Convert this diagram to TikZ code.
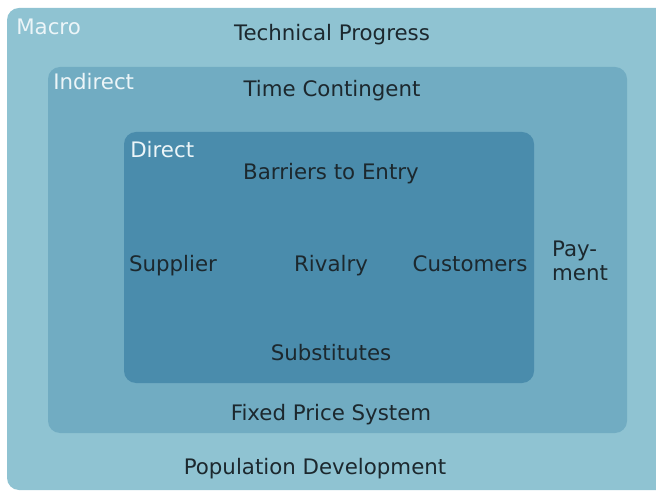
\documentclass[tikz,border=0pt]{standalone}
\usepackage{fontspec}
\setmainfont{DejaVu Sans}
\definecolor{macrocol}{RGB}{143,195,210}
\definecolor{indirectcol}{RGB}{113,172,194}
\definecolor{directcol}{RGB}{74,140,172}
\definecolor{txtcol}{RGB}{28,40,46}
\definecolor{labcol}{RGB}{236,245,248}

\begin{document}
\begin{tikzpicture}[
            x = .75pt, y = -.75pt,
            every node/.style={text depth=0pt, inner sep=0pt, font=\fontsize{16}{18}\selectfont, text=txtcol},
            layer/.style={rounded corners = 9pt},
            tag/.style={anchor=west, text=labcol},
            ]

        \useasboundingbox (0, 0) rectangle (656, 491);

        % the three nested areas
        \fill[layer, macrocol] (7, 8) rectangle (670, 490);
        \fill[layer, indirectcol] (48, 67) rectangle (627, 433);
        \fill[layer, directcol] (124, 132) rectangle (534, 383);

        % area names
        \node[tag] (macro) at (16, 27) {Macro};
        \node[tag] (indirect) at (53, 81) {Indirect};
        \node[tag] (direct) at (130, 149) {Direct};

        % forces
        \node (technical) at (332, 32) {Technical Progress};
        \node (time) at (332, 88) {Time Contingent};
        \node (barriers) at (331, 171) {Barriers to Entry};
        \node (supplier) at (173, 263) {Supplier};
        \node (rivalry) at (331, 263) {Rivalry};
        \node (customers) at (470, 264) {Customers};
        \node[align=left] (payment) at (580, 261) {Pay-\\ment};
        \node (substitutes) at (331, 352) {Substitutes};
        \node (fixed) at (331, 412) {Fixed Price System};
        \node (population) at (315, 466) {Population Development};
    \end{tikzpicture}
\end{document}
